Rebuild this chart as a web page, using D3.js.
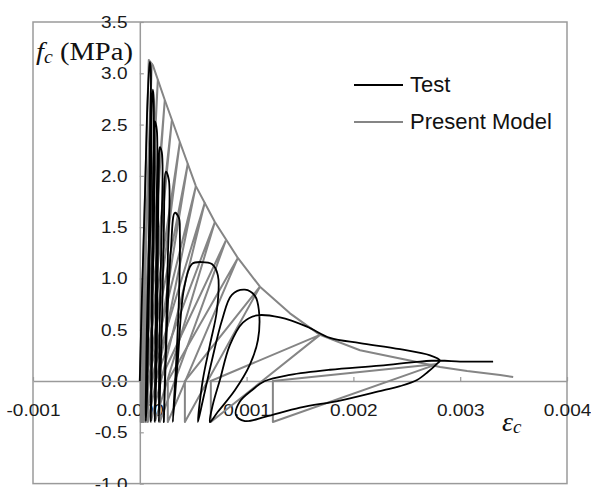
<!DOCTYPE html>
<html>
<head>
<meta charset="utf-8">
<script src="https://cdn.jsdelivr.net/npm/d3@7"></script>
<style>
body { margin: 0; background: #fff; }
</style>
</head>
<body>
<script>
var width = 591,
    height = 487;

// axis ticks
var xTicks = [-0.001, 0.000, 0.001, 0.002, 0.003, 0.004];
var xTickLabels = ["-0.001", "0.000", "0.001", "0.002", "0.003", "0.004"];
var yTicks = [-1.0, -0.5, 0.0, 0.5, 1.0, 1.5, 2.0, 2.5, 3.0, 3.5];
var yTickLabels = ["-1.0", "-0.5", "0.0", "0.5", "1.0", "1.5", "2.0", "2.5", "3.0", "3.5"];
var seriesNames = ["Test", "Present Model"];

// test: strain, stress (MPa)
var testCurve = [
  [0, 0], [0.000019, 0.79], [0.000047, 1.76], [0.000066, 2.54], [0.000084, 2.98], [0.000094, 3.11],
  [0.000103, 3.03], [0.000094, 2.25], [0.000084, 1.28], [0.000066, 0.50], [0.000056, -0.19], [0.000056, -0.39],
  [0.000066, -0.19], [0.000084, 0.79], [0.000103, 1.76], [0.000112, 2.64], [0.000122, 2.84], [0.000131, 2.74],
  [0.000122, 1.76], [0.000112, 0.79], [0.000103, -0.39],
  [0.000112, 0.01], [0.000122, 0.98], [0.000141, 2.06], [0.000141, 2.53], [0.000159, 2.45], [0.000159, 1.76],
  [0.000150, 0.79], [0.000141, -0.39],
  [0.000159, 0.30], [0.000169, 1.28], [0.000178, 2.06], [0.000187, 2.28], [0.000206, 2.23], [0.000206, 1.57],
  [0.000187, 0.59], [0.000178, -0.40],
  [0.000206, 0.50], [0.000225, 1.47], [0.000244, 2.04], [0.000272, 1.96], [0.000262, 1.18], [0.000244, 0.40],
  [0.000225, -0.40],
  [0.000253, 0.50], [0.000291, 1.28], [0.000328, 1.64], [0.000366, 1.59], [0.000375, 1.45], [0.000366, 0.79],
  [0.000337, 0.11], [0.000309, -0.40],
  [0.000356, 0.20], [0.000412, 0.89], [0.000487, 1.14], [0.000581, 1.16], [0.000675, 1.14], [0.000731, 1.03],
  [0.000722, 0.69], [0.000656, 0.35], [0.000590, 0.01], [0.000544, -0.40],
  [0.000590, -0.19], [0.000675, 0.20], [0.000769, 0.59], [0.000862, 0.84], [0.000984, 0.89], [0.001078, 0.83],
  [0.001115, 0.69], [0.001106, 0.40], [0.001031, 0.16], [0.000890, -0.09], [0.000731, -0.30], [0.000656, -0.40],
  [0.000684, -0.23], [0.000750, 0.01], [0.000843, 0.35], [0.000965, 0.57], [0.001097, 0.64], [0.001312, 0.62],
  [0.001565, 0.53], [0.001781, 0.42], [0.002062, 0.37], [0.002437, 0.31], [0.002718, 0.25], [0.002812, 0.20],
  [0.002784, 0.17], [0.002699, 0.09], [0.002596, 0.01], [0.002437, -0.05], [0.002277, -0.09], [0.001874, -0.19],
  [0.001500, -0.26], [0.001172, -0.35], [0.000984, -0.39], [0.000900, -0.33], [0.000937, -0.20], [0.001050, -0.09],
  [0.001172, 0.00], [0.001406, 0.06], [0.001781, 0.11], [0.002249, 0.15], [0.002624, 0.19], [0.002812, 0.20],
  [0.002999, 0.19], [0.003187, 0.19], [0.003308, 0.19]
];

// present model: envelope
var modelEnvelope = [
  [0, 0], [0.000084, 3.13], [0.000122, 3.08], [0.000234, 2.74], [0.000375, 2.33], [0.000525, 1.90],
  [0.000703, 1.55], [0.000918, 1.20], [0.001125, 0.92], [0.001406, 0.66], [0.001687, 0.45], [0.002062, 0.30],
  [0.002596, 0.185], [0.002812, 0.137], [0.003065, 0.097], [0.003374, 0.058], [0.003496, 0.039]
];
// present model: unloading points on the envelope and residual strains
var modelPeaks = [
  [0.000112, 3.10], [0.000169, 2.94], [0.000234, 2.74], [0.000300, 2.54], [0.000375, 2.33], [0.000450, 2.12],
  [0.000525, 1.90], [0.000609, 1.74], [0.000703, 1.55], [0.000806, 1.37], [0.000918, 1.20], [0.001125, 0.92],
  [0.001687, 0.45], [0.002784, 0.165]
];
var modelResidual = [
  0.000009, 0.000014, 0.000019, 0.000028, 0.000037, 0.000056, 0.000075, 0.000103, 0.000141, 0.000187,
  0.000262, 0.000422, 0.000665, 0.001246
];
var modelTrough = -0.40;

var svg = d3.select("body")
            .append("svg")
            .attr("width", width)
            .attr("height", height);

var x = d3.scaleLinear().domain([-0.001, 0.004]).range([33, 567]),
    y = d3.scaleLinear().domain([-1.0, 3.5]).range([483.6, 22]);

// plot border
svg.append("rect")
   .attr("x", x(-0.001))
   .attr("y", y(3.5))
   .attr("width", x(0.004) - x(-0.001))
   .attr("height", y(-1.0) - y(3.5))
   .attr("fill", "none")
   .attr("stroke", "#9a9a9a")
   .attr("stroke-width", 1.5);

var yAxis = svg.append("g")
   .attr("transform", "translate(" + x(0) + ",0)")
   .call(d3.axisLeft(y).tickValues(yTicks)
           .tickFormat(function(d, i){ return yTickLabels[i]; })
           .tickSizeInner(-4).tickSizeOuter(0).tickPadding(11));

var xAxis = svg.append("g")
   .attr("transform", "translate(0," + y(0) + ")")
   .call(d3.axisBottom(x).tickValues(xTicks)
           .tickFormat(function(d, i){ return xTickLabels[i]; })
           .tickSizeInner(-4).tickSizeOuter(0).tickPadding(23));

[xAxis, yAxis].forEach(function(g){
  g.select(".domain").attr("stroke", "#9a9a9a").attr("stroke-width", 1.5);
  g.selectAll(".tick line").attr("stroke", "#9a9a9a").attr("stroke-width", 1.2);
  g.selectAll(".tick text")
   .attr("font-family", "Liberation Sans, Arial, sans-serif")
   .attr("font-size", 17)
   .attr("fill", "#1a1a1a")
   .attr("transform", "scale(1.12,1)");
});

var line = d3.line()
             .x(function(d){ return x(d[0]); })
             .y(function(d){ return y(d[1]); });

// model cycles: unload to residual strain, drop to trough, reload to envelope
modelPeaks.forEach(function(p, i){
  var u = modelResidual[i];
  svg.append("path")
     .attr("d", line([p, [u, 0], [u, modelTrough], p]))
     .attr("fill", "none")
     .attr("stroke", "#858585")
     .attr("stroke-width", 2)
     .attr("stroke-linejoin", "round");
});

svg.append("path")
   .attr("d", line(modelEnvelope))
   .attr("fill", "none")
   .attr("stroke", "#858585")
   .attr("stroke-width", 2)
   .attr("stroke-linejoin", "round");

svg.append("path")
   .attr("d", line.curve(d3.curveCatmullRom)(testCurve))
   .attr("fill", "none")
   .attr("stroke", "#000")
   .attr("stroke-width", 1.8)
   .attr("stroke-linejoin", "round");

// legend
var legendColors = ["#000", "#858585"];
var legend = svg.selectAll(".legend")
   .data(seriesNames)
   .enter().append("g")
   .attr("transform", function(d, i){ return "translate(354," + (85 + i * 37) + ")"; });
legend.append("line")
   .attr("x1", 0).attr("x2", 49)
   .attr("stroke", function(d, i){ return legendColors[i]; })
   .attr("stroke-width", 2);
legend.append("text")
   .attr("x", 56).attr("y", 7)
   .attr("font-family", "Liberation Sans, Arial, sans-serif")
   .attr("font-size", 22)
   .attr("fill", "#111")
   .text(function(d){ return d; });

// axis titles
var yTitle = svg.append("text")
   .attr("transform", "translate(36,60) scale(1.1,1)")
   .attr("font-family", "Liberation Serif, Times New Roman, serif")
   .attr("font-size", 26)
   .attr("fill", "#111");
yTitle.append("tspan").attr("font-style", "italic").text("f");
yTitle.append("tspan").attr("font-style", "italic").attr("font-size", 18).attr("dy", 3).text("c");
yTitle.append("tspan").attr("dy", -3).text(" (MPa)");

var xTitle = svg.append("text")
   .attr("transform", "translate(502,431)")
   .attr("font-family", "Liberation Serif, Times New Roman, serif")
   .attr("font-size", 28)
   .attr("font-style", "italic")
   .attr("fill", "#111");
xTitle.append("tspan").text("ε");
xTitle.append("tspan").attr("font-size", 19).attr("dy", 2).text("c");
</script>
</body>
</html>
